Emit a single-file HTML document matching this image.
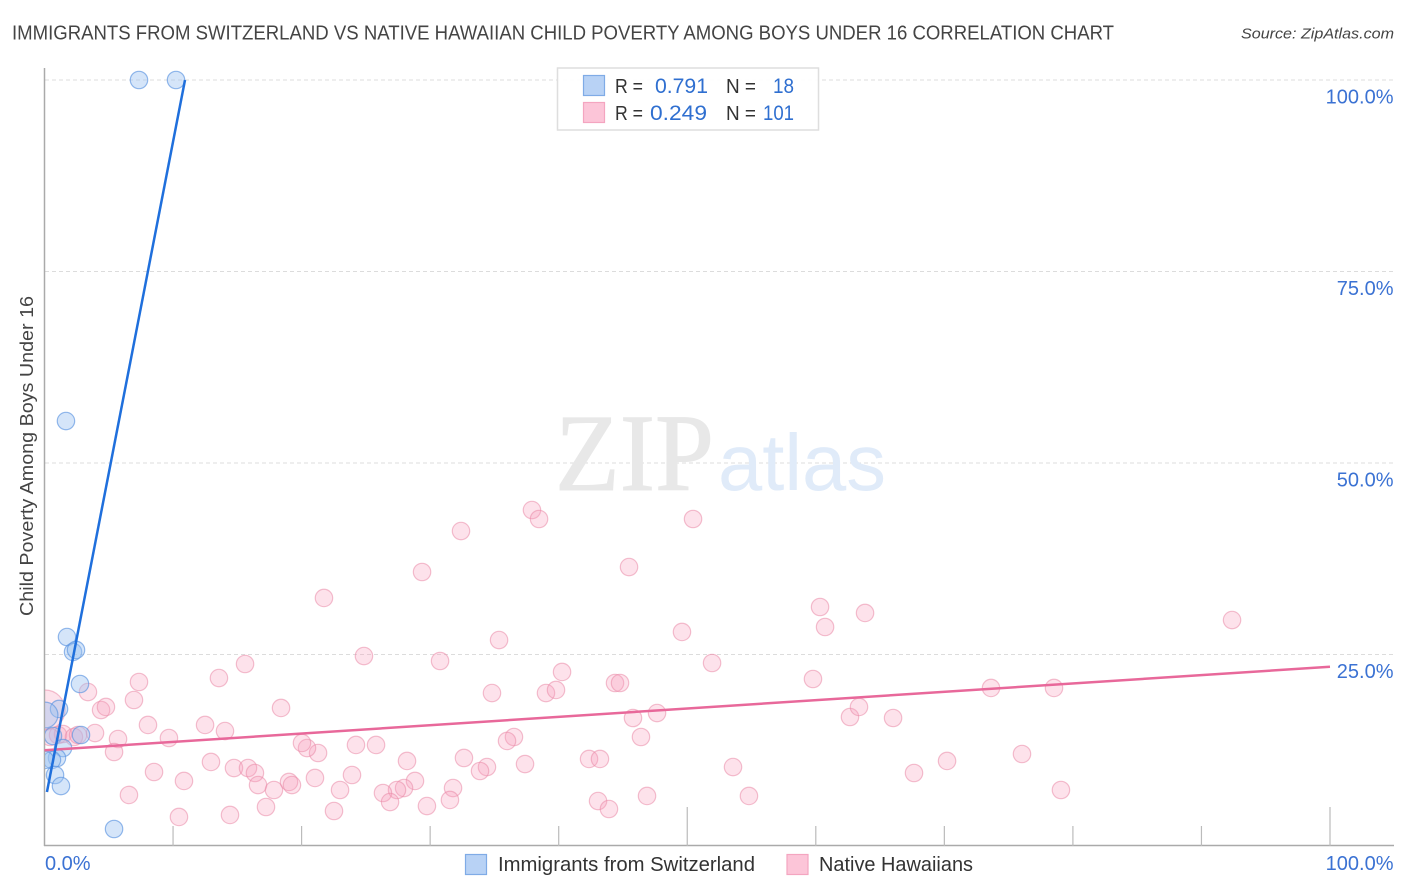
<!DOCTYPE html>
<html lang="en">
<head>
<meta charset="utf-8">
<title>Immigrants from Switzerland vs Native Hawaiian Child Poverty Among Boys Under 16 Correlation Chart</title>
<style>
html,body{margin:0;padding:0;background:#fff;}
svg{display:block;font-family:"Liberation Sans",sans-serif;}
</style>
</head>
<body>
<svg id="chart" xmlns="http://www.w3.org/2000/svg" width="1406" height="892" viewBox="0 0 1406 892">
  <defs><clipPath id="plot-clip"><rect x="45" y="60" width="1350" height="786"/></clipPath></defs>
  <rect x="0" y="0" width="1406" height="892" fill="#fff"/>
  <text x="12" y="39.5" font-size="20" fill="#444" textLength="1102" lengthAdjust="spacingAndGlyphs">IMMIGRANTS FROM SWITZERLAND VS NATIVE HAWAIIAN CHILD POVERTY AMONG BOYS UNDER 16 CORRELATION CHART</text>
  <text x="1241" y="38.5" font-size="15" font-style="italic" fill="#444" textLength="153" lengthAdjust="spacingAndGlyphs">Source: ZipAtlas.com</text>
  <g id="grid"></g>
  <g>
    <text x="555" y="490" font-family="'Liberation Serif',serif" font-size="110" fill="#e8e8e8" stroke="#e8e8e8" stroke-width="1" textLength="159" lengthAdjust="spacingAndGlyphs">ZIP</text>
    <text x="718" y="490" font-size="80" fill="#e0ebf9" textLength="168" lengthAdjust="spacingAndGlyphs">atlas</text>
  </g>
  <g id="axes"></g>
  <g id="pink-points" clip-path="url(#plot-clip)"></g>
  <g id="blue-points" clip-path="url(#plot-clip)"></g>
  <g id="trends"></g>
  <g id="tick-labels"></g>
  <text transform="translate(33,616) rotate(-90)" x="0" y="0" font-size="18.5" fill="#444" textLength="320" lengthAdjust="spacingAndGlyphs">Child Poverty Among Boys Under 16</text>

  <g>
    <rect x="557.5" y="68" width="261" height="62" fill="#fff" fill-opacity="0.9" stroke="#dedede" stroke-width="1.5"/>
    <rect x="583.5" y="75.5" width="21" height="20" fill="#b8d2f5" stroke="#7fabe6" stroke-width="1.2"/>
    <rect x="583.5" y="102.5" width="21" height="20" fill="#fcc5d8" stroke="#f4a5c0" stroke-width="1.2"/>
    <g font-size="20" fill="#333">
      <text x="615" y="93" textLength="28" lengthAdjust="spacingAndGlyphs">R =</text>
      <text x="726" y="93" textLength="30" lengthAdjust="spacingAndGlyphs">N =</text>
      <text x="615" y="120" textLength="28" lengthAdjust="spacingAndGlyphs">R =</text>
      <text x="726" y="120" textLength="30" lengthAdjust="spacingAndGlyphs">N =</text>
    </g>
    <g font-size="21" fill="#2f6fd0">
      <text x="655" y="93" textLength="53" lengthAdjust="spacingAndGlyphs">0.791</text>
      <text x="773" y="93" textLength="21" lengthAdjust="spacingAndGlyphs">18</text>
      <text x="650" y="120" textLength="57" lengthAdjust="spacingAndGlyphs">0.249</text>
      <text x="763" y="120" textLength="31" lengthAdjust="spacingAndGlyphs">101</text>
    </g>
  </g>

  <g>
    <rect x="465.500" y="854.5" width="21" height="20" fill="#b8d2f5" stroke="#7fabe6" stroke-width="1.2"/>
    <text x="498" y="871" font-size="20" fill="#333" textLength="257" lengthAdjust="spacingAndGlyphs">Immigrants from Switzerland</text>
    <rect x="787" y="854.5" width="21" height="20" fill="#fcc5d8" stroke="#f4a5c0" stroke-width="1.2"/>
    <text x="819" y="871" font-size="20" fill="#333" textLength="154" lengthAdjust="spacingAndGlyphs">Native Hawaiians</text>
  </g>
</svg>
<script>
// Data (percent units)
const yTickValues = [25, 50, 75, 100];
const yTickLabels = ["25.0%", "50.0%", "75.0%", "100.0%"];
const xTickValues = [10, 20, 30, 40, 50, 60, 70, 80, 90, 100];
const xMajorTicks = [50, 100];
const xEndLabels = ["0.0%", "100.0%"];

const blueX = [7.35,10.23,1.67,1.75,2.22,2.45,2.76,1.13,0.04,0.66,2.84,1.44,0.97,0.58,0.04,0.82,1.28,5.41];
const blueY = [100,100,55.48,27.28,25.33,25.59,21.15,17.89,17.10,14.36,14.49,12.79,11.49,11.23,11.23,9.27,7.83,2.22];
const blueWeight = [1,1,1,1,1,1,1,1,2.2,1,1,1,1,1,1,1,1,1];

const pinkX = [21.74,29.37,32.40,37.92,38.47,45.47,50.45,49.59,35.36,24.85,30.77,40.26,34.81,39.01,39.79,44.38,44.77,45.78,47.65,46.40,36.52,35.98,32.63,37.38,34.42,33.88,28.20,24.23,25.79,21.28,20.42,20.03,23.92,21.04,22.99,22.52,28.82,27.97,27.42,26.33,26.88,31.78,31.54,29.75,42.36,43.21,43.06,43.91,46.87,53.56,54.80,51.93,59.78,60.33,60.72,63.83,62.66,63.36,66.01,67.64,70.21,73.63,76.04,78.53,79.07,92.38,3.38,4.40,4.78,7.35,6.96,8.05,3.93,5.72,5.41,8.52,6.57,10.46,9.68,12.49,14.04,13.57,15.60,18.40,12.95,14.74,15.83,16.37,16.61,17.85,19.02,19.25,14.43,17.23,10.85,0.04,1.05,1.44,2.29,2.61,0.43];
const pinkY = [32.38,35.77,41.12,43.86,42.69,36.42,42.69,27.94,26.89,24.80,24.15,22.72,19.97,19.97,20.37,21.28,21.28,16.71,17.36,14.23,14.23,13.71,11.49,10.70,10.31,9.79,11.10,13.19,13.19,12.14,12.79,13.45,9.27,8.88,7.31,4.57,8.49,7.57,7.31,6.92,5.74,7.57,6.01,5.22,11.36,11.36,5.87,4.83,6.53,10.31,6.53,23.89,21.80,31.20,28.59,30.42,16.84,18.15,16.71,9.53,11.10,20.63,12.01,20.63,7.31,29.50,20.10,17.75,18.15,21.41,19.06,15.80,14.75,13.97,12.27,9.66,6.66,3.79,14.10,15.80,15.01,21.93,23.76,18.02,10.97,10.18,10.18,9.53,7.96,7.31,8.36,7.96,4.05,5.09,8.49,17.75,14.49,14.62,14.23,14.49,14.23];
const pinkWeight = [1,1,1,1,1,1,1,1,1,1,1,1,1,1,1,1,1,1,1,1,1,1,1,1,1,1,1,1,1,1,1,1,1,1,1,1,1,1,1,1,1,1,1,1,1,1,1,1,1,1,1,1,1,1,1,1,1,1,1,1,1,1,1,1,1,1,1,1,1,1,1,1,1,1,1,1,1,1,1,1,1,1,1,1,1,1,1,1,1,1,1,1,1,1,1,5.3,1,1,1,1,1];

const blueTrendX = [0.19, 10.93];
const blueTrendY = [7.05, 100];
const pinkTrendX = [0, 100];
const pinkTrendY = [12.5, 23.4];

// Axis functions
const xPos = v => 44.5 + v * 12.855;
const yPos = v => 846 - v * 7.66;
const rPos = w => 8.7 * Math.sqrt(w);
const NS = "http://www.w3.org/2000/svg";
function make(parent, tag, attrs) {
  const el = document.createElementNS(NS, tag);
  for (const k in attrs) el.setAttribute(k, attrs[k]);
  parent.appendChild(el);
  return el;
}

const grid = document.getElementById("grid");
yTickValues.forEach(v => {
  const line = make(grid, "line", {x1: 45, x2: 1394, y1: yPos(v), y2: yPos(v), stroke: "#dcdcdc", "stroke-width": 1, "stroke-dasharray": "4 3"});
  
  
});

const axes = document.getElementById("axes");
const yAxisLine = make(axes, "line", {x1: 44.5, x2: 44.5, y1: 68, y2: 846, stroke: "#aaa", "stroke-width": 1.5});


const xAxisLine = make(axes, "line", {x1: 44, x2: 1394, y1: 845.5, y2: 845.5, stroke: "#aaa", "stroke-width": 1.5});


xTickValues.forEach(v => {
  const top = xMajorTicks.includes(v) ? 807 : 826;
  const tick = make(axes, "line", {x1: xPos(v), x2: xPos(v), y1: top, y2: 846, stroke: "#bbb", "stroke-width": 1.2});
  
  
});

const pinkGroup = document.getElementById("pink-points");
pinkX.forEach((x, i) => {
  const c = make(pinkGroup, "circle", {cx: xPos(x), cy: yPos(pinkY[i]), r: rPos(pinkWeight[i]), fill: "#f8a0bc", "fill-opacity": 0.3, stroke: "#ea8aa8", "stroke-opacity": 0.55, "stroke-width": 1.2});
  
  
});

const blueGroup = document.getElementById("blue-points");
blueX.forEach((x, i) => {
  const c = make(blueGroup, "circle", {cx: xPos(x), cy: yPos(blueY[i]), r: rPos(blueWeight[i]), fill: "#9cc2f0", "fill-opacity": 0.42, stroke: "#5b94e0", "stroke-opacity": 0.65, "stroke-width": 1.2});
  
  
});

const trends = document.getElementById("trends");
const pinkTrend = make(trends, "line", {x1: xPos(pinkTrendX[0]), x2: xPos(pinkTrendX[1]), y1: yPos(pinkTrendY[0]), y2: yPos(pinkTrendY[1]), stroke: "#e8689a", "stroke-width": 2.5});


const blueTrend = make(trends, "line", {x1: xPos(blueTrendX[0]), x2: xPos(blueTrendX[1]), y1: yPos(blueTrendY[0]), y2: yPos(blueTrendY[1]), stroke: "#1f6fdc", "stroke-width": 2.5});



const tickLabels = document.getElementById("tick-labels");
yTickValues.forEach((v, i) => {
  const t = make(tickLabels, "text", {x: 1393.5, y: yPos(v) + 23.5, "text-anchor": "end", "font-size": 20, fill: "#3b72d3"});
  
  
  t.textContent = yTickLabels[i];
});
const x0Label = make(tickLabels, "text", {x: 45, y: 870, "font-size": 20, fill: "#3b72d3"});


x0Label.textContent = xEndLabels[0];
const x100Label = make(tickLabels, "text", {x: 1393.5, y: 870, "text-anchor": "end", "font-size": 20, fill: "#3b72d3"});


x100Label.textContent = xEndLabels[1];
</script>
</body>
</html>
